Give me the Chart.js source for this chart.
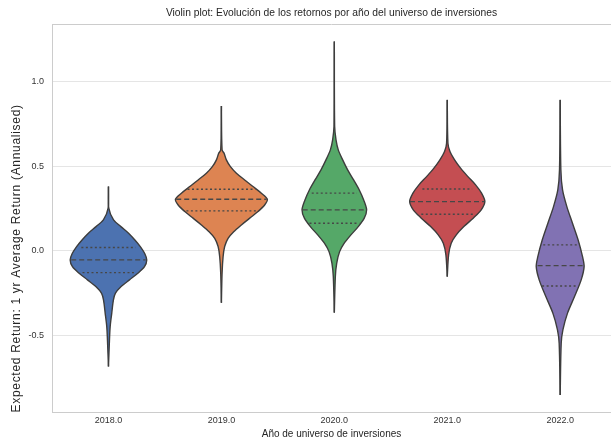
<!DOCTYPE html>
<html>
<head>
<meta charset="utf-8">
<script src="https://cdn.jsdelivr.net/npm/chart.js@4.4.1/dist/chart.umd.min.js"></script>
<style>
  html, body { margin: 0; padding: 0; background: #fff; }
  #wrap { width: 611px; height: 441px; }
</style>
</head>
<body>
<div id="wrap"><canvas id="violin"></canvas></div>
<script>
const years = ['2018.0', '2019.0', '2020.0', '2021.0', '2022.0'];
const yTicks = [-0.5, 0.0, 0.5, 1.0];

// density outline per year: return level -> half width (category units)
const levels2018 = [0.379, 0.251, 0.182, 0.142, 0.103, 0.063, 0.024, -0.016, -0.055, -0.095, -0.134, -0.173, -0.213, -0.252, -0.292, -0.371, -0.450, -0.528, -0.686];
const widths2018 = [0, 0.003, 0.045, 0.110, 0.178, 0.234, 0.282, 0.320, 0.339, 0.319, 0.260, 0.186, 0.112, 0.062, 0.044, 0.029, 0.015, 0.009, 0];

const levels2019 = [0.856, 0.596, 0.576, 0.537, 0.497, 0.458, 0.418, 0.379, 0.340, 0.304, 0.270, 0.231, 0.192, 0.152, 0.112, 0.073, 0.024, -0.036, -0.134, -0.308];
const widths2019 = [0, 0.006, 0.024, 0.044, 0.080, 0.133, 0.206, 0.280, 0.354, 0.407, 0.383, 0.324, 0.251, 0.177, 0.109, 0.059, 0.029, 0.015, 0.006, 0];

const levels2020 = [1.237, 0.734, 0.655, 0.596, 0.537, 0.478, 0.418, 0.359, 0.300, 0.241, 0.192, 0.142, 0.093, 0.044, -0.006, -0.075, -0.154, -0.367];
const widths2020 = [0, 0.003, 0.015, 0.035, 0.074, 0.118, 0.171, 0.221, 0.260, 0.286, 0.265, 0.212, 0.147, 0.088, 0.047, 0.021, 0.009, 0];

const levels2021 = [0.892, 0.635, 0.586, 0.537, 0.488, 0.438, 0.389, 0.340, 0.290, 0.241, 0.192, 0.142, 0.093, 0.044, -0.025, -0.154];
const widths2021 = [0, 0.006, 0.024, 0.065, 0.118, 0.183, 0.251, 0.304, 0.333, 0.301, 0.230, 0.147, 0.080, 0.035, 0.012, 0];

const levels2022 = [0.892, 0.478, 0.359, 0.260, 0.162, 0.063, -0.036, -0.095, -0.173, -0.272, -0.370, -0.469, -0.548, -0.854];
const widths2022 = [0, 0.006, 0.021, 0.059, 0.109, 0.159, 0.198, 0.212, 0.186, 0.127, 0.065, 0.024, 0.009, 0];

// inner quartile lines: Q3, median, Q1 and their half widths
const quart2018 = [0.018, -0.055, -0.130];
const quartW2018 = [0.24, 0.33, 0.23];
const quart2019 = [0.363, 0.304, 0.235];
const quartW2019 = [0.30, 0.40, 0.31];
const quart2020 = [0.340, 0.241, 0.162];
const quartW2020 = [0.20, 0.28, 0.22];
const quart2021 = [0.365, 0.290, 0.215];
const quartW2021 = [0.22, 0.33, 0.23];
const quart2022 = [0.034, -0.089, -0.209];
const quartW2022 = [0.15, 0.20, 0.16];

const palette = ['#4c72b0', '#dd8452', '#55a868', '#c44e52', '#8172b3'];
const edge = '#3d3d3d';
const font = '"Liberation Sans", Arial, sans-serif';

const violins = [
  [levels2018, widths2018, quart2018, quartW2018],
  [levels2019, widths2019, quart2019, quartW2019],
  [levels2020, widths2020, quart2020, quartW2020],
  [levels2021, widths2021, quart2021, quartW2021],
  [levels2022, widths2022, quart2022, quartW2022]
];

const datasets = [];
violins.forEach(([lev, wid, q, qw], i) => {
  // left edge, then right edge filled back to it
  datasets.push({
    data: lev.map((v, k) => ({ x: i - wid[k], y: v })),
    borderColor: edge, borderWidth: 1.4, pointRadius: 0, tension: 0.3, fill: false, order: 1
  });
  datasets.push({
    data: lev.map((v, k) => ({ x: i + wid[k], y: v })),
    borderColor: edge, borderWidth: 1.4, backgroundColor: palette[i],
    pointRadius: 0, tension: 0.3, fill: '-1', order: 1
  });
  q.forEach((v, k) => {
    datasets.push({
      data: [{ x: i - qw[k], y: v }, { x: i + qw[k], y: v }],
      borderColor: '#474747', borderWidth: 1.4, borderDash: k === 1 ? [5, 3] : [2, 2.5],
      pointRadius: 0, fill: false, order: 0
    });
  });
});

// thin frame line along the top of the plot area
const topFrame = {
  id: 'topFrame',
  beforeDatasetsDraw(chart) {
    const { ctx, chartArea } = chart;
    ctx.save();
    ctx.strokeStyle = '#cccccc';
    ctx.lineWidth = 1;
    ctx.beginPath();
    ctx.moveTo(chartArea.left, chartArea.top + 0.5);
    ctx.lineTo(chartArea.right, chartArea.top + 0.5);
    ctx.stroke();
    ctx.restore();
  }
};

// the y title is set a little wider than the font gives on its own
function spacedTitle(scale) {
  if (scale._spaced) return;
  const draw = scale.drawTitle;
  scale.drawTitle = function () {
    this.ctx.save();
    this.ctx.letterSpacing = '0.7px';
    draw.call(this);
    this.ctx.restore();
  };
  scale._spaced = true;
}

new Chart(document.getElementById('violin'), {
  type: 'line',
  data: { datasets },
  plugins: [topFrame],
  options: {
    indexAxis: 'y',
    responsive: true,
    maintainAspectRatio: false,
    animation: false,
    events: [],
    layout: { padding: 0 },
    plugins: {
      legend: { display: false },
      tooltip: { enabled: false },
      title: {
        display: true,
        fullSize: false,
        text: 'Violin plot: Evolución de los retornos por año del universo de inversiones',
        color: '#262626',
        font: { family: font, size: 10.3, weight: 'normal', lineHeight: '12px' },
        padding: { top: 7, bottom: 5 }
      }
    },
    scales: {
      x: {
        type: 'linear',
        min: -0.5,
        max: 4.45,
        afterBuildTicks: s => { s.ticks = years.map((_, i) => ({ value: i })); },
        afterFit: s => { s.height = 28.5; },
        grid: { display: false, drawTicks: false },
        border: { display: true, color: '#cccccc', width: 1 },
        ticks: {
          callback: v => years[v],
          color: '#333',
          font: { family: font, size: 9 },
          padding: 3,
          autoSkip: false,
          maxRotation: 0
        },
        title: {
          display: true,
          text: 'Año de universo de inversiones',
          color: '#262626',
          font: { family: font, size: 10 },
          padding: { top: 0, bottom: 1 }
        }
      },
      y: {
        type: 'linear',
        min: -0.958,
        max: 1.341,
        afterBuildTicks: s => { s.ticks = yTicks.map(v => ({ value: v })); },
        afterFit: s => { s.width = 52; },
        afterUpdate: spacedTitle,
        grid: { color: '#e5e5e5', lineWidth: 1, drawTicks: false },
        border: { display: true, color: '#cccccc', width: 1 },
        ticks: {
          callback: v => v.toFixed(1),
          color: '#333',
          font: { family: font, size: 9 },
          padding: 8
        },
        title: {
          display: true,
          align: 'start',
          text: 'Expected Return: 1 yr Average Return (Annualised)',
          color: '#262626',
          font: { family: font, size: 12 },
          padding: { top: 9, bottom: 0 }
        }
      }
    }
  }
});
</script>
</body>
</html>
